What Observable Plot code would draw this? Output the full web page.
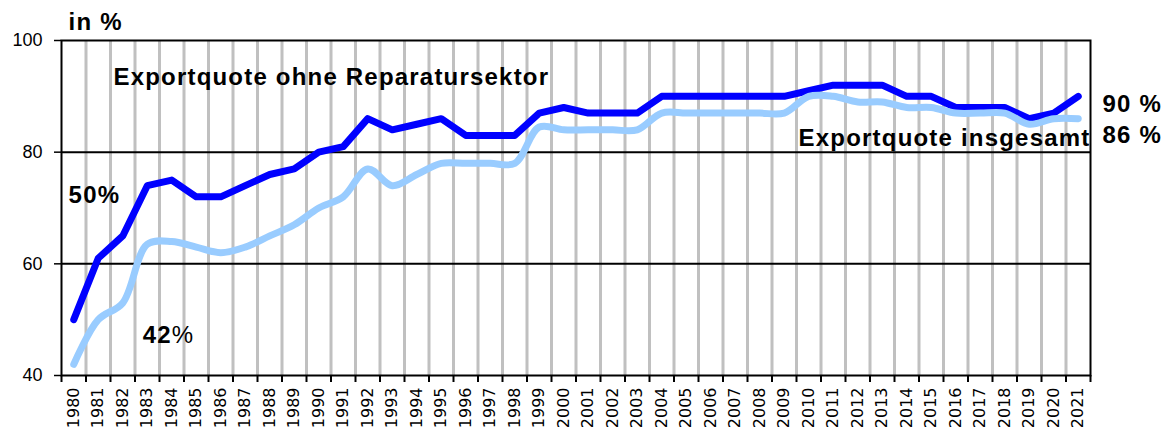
<!DOCTYPE html>
<html>
<head>
<meta charset="utf-8">
<script src="https://cdn.jsdelivr.net/npm/d3@7"></script>
<script src="https://cdn.jsdelivr.net/npm/@observablehq/plot@0.6"></script>
<style>
  html, body { margin: 0; padding: 0; background: white; }
  svg { font-family: "Liberation Sans", Arial, sans-serif; }
  g[aria-label="text"] text { letter-spacing: 1.2px; }
  g[font-family="DejaVu Sans"] text { letter-spacing: 0; }
</style>
</head>
<body>
<div id="chart"></div>
<script>
const years = d3.range(1980, 2022);
const ohneReparatur = [50, 61, 65, 74, 75, 72, 72, 74, 76, 77, 80, 81, 86, 84, 85, 86, 83, 83, 83, 87, 88, 87, 87, 87, 90, 90, 90, 90, 90, 90, 91, 92, 92, 92, 90, 90, 88, 88, 88, 86, 87, 90];
const insgesamt = [42, 50, 53, 63.5, 64, 63, 62, 63, 65, 67, 70, 72, 77, 74, 76, 78, 78, 78, 78, 84.5, 84, 84, 84, 84, 87, 87, 87, 87, 87, 87, 90, 90, 89, 89, 88, 88, 87, 87, 87, 85, 86, 86];
const yTicks = [40, 60, 80, 100];
const gridY = [60, 80];

const dark = years.map((y, i) => ({year: y, value: ohneReparatur[i]}));
const light = years.map((y, i) => ({year: y, value: insgesamt[i]}));
const bounds = d3.range(1979.5, 2022, 1);

const chart = Plot.plot({
  width: 1163,
  height: 431,
  marginLeft: 61,
  marginRight: 73,
  marginTop: 40,
  marginBottom: 56,
  style: {fontFamily: "Liberation Sans, Arial, sans-serif", background: "white", color: "black"},
  x: {type: "linear", domain: [1979.5, 2021.5], axis: null},
  y: {domain: [40, 100], axis: null},
  marks: [
    Plot.ruleX(bounds.slice(1, -1), {stroke: "#c0c0c0", strokeWidth: 3, strokeOpacity: 1}),
    Plot.ruleY(gridY, {stroke: "black", strokeWidth: 2}),
    Plot.frame({stroke: "black", strokeWidth: 2}),
    Plot.axisY({ticks: yTicks, label: null, tickSize: 7, tickPadding: 12, fontSize: 18, tickFormat: d => String(d), strokeWidth: 1.5}),
    Plot.axisX({ticks: bounds, label: null, tickSize: 7, tickFormat: () => "", strokeWidth: 2}),
    Plot.text(years, {x: d => d, y: 40, text: d => String(d), rotate: -90, textAnchor: "end", lineAnchor: "middle", dy: 12, fontSize: 16, fontFamily: "DejaVu Sans"}),
    Plot.line(dark, {x: "year", y: "value", stroke: "#0000ff", strokeWidth: 7, strokeLinejoin: "round", strokeLinecap: "round"}),
    Plot.line(light, {x: "year", y: "value", stroke: "#99ccff", strokeWidth: 7, curve: "catmull-rom", strokeLinecap: "round"}),
    Plot.text(["in %"], {x: 1979.79, y: 103.2, text: d => d, textAnchor: "start", fontSize: 24, fontWeight: "bold"}),
    Plot.text(["Exportquote ohne Reparatursektor"], {x: 1981.62, y: 93.4, text: d => d, textAnchor: "start", fontSize: 24, fontWeight: "bold"}),
    Plot.text(["50%"], {x: 1979.79, y: 72.2, text: d => d, textAnchor: "start", fontSize: 24, fontWeight: "bold"}),
    Plot.text(["42"], {x: 1984.0, y: 47.2, text: d => d, textAnchor: "end", fontSize: 24, fontWeight: "bold"}),
    Plot.text(["%"], {x: 1984.0, y: 47.2, text: d => d, textAnchor: "start", fontSize: 24}),
    Plot.text(["Exportquote insgesamt"], {x: 2021.5, y: 82.4, text: d => d, textAnchor: "end", fontSize: 24, fontWeight: "bold"}),
    Plot.text(["90 %"], {x: 2021.99, y: 88.5, text: d => d, textAnchor: "start", fontSize: 24, fontWeight: "bold"}),
    Plot.text(["86 %"], {x: 2021.99, y: 83.0, text: d => d, textAnchor: "start", fontSize: 24, fontWeight: "bold"})
  ]
});
document.getElementById("chart").appendChild(chart);
</script>
</body>
</html>
